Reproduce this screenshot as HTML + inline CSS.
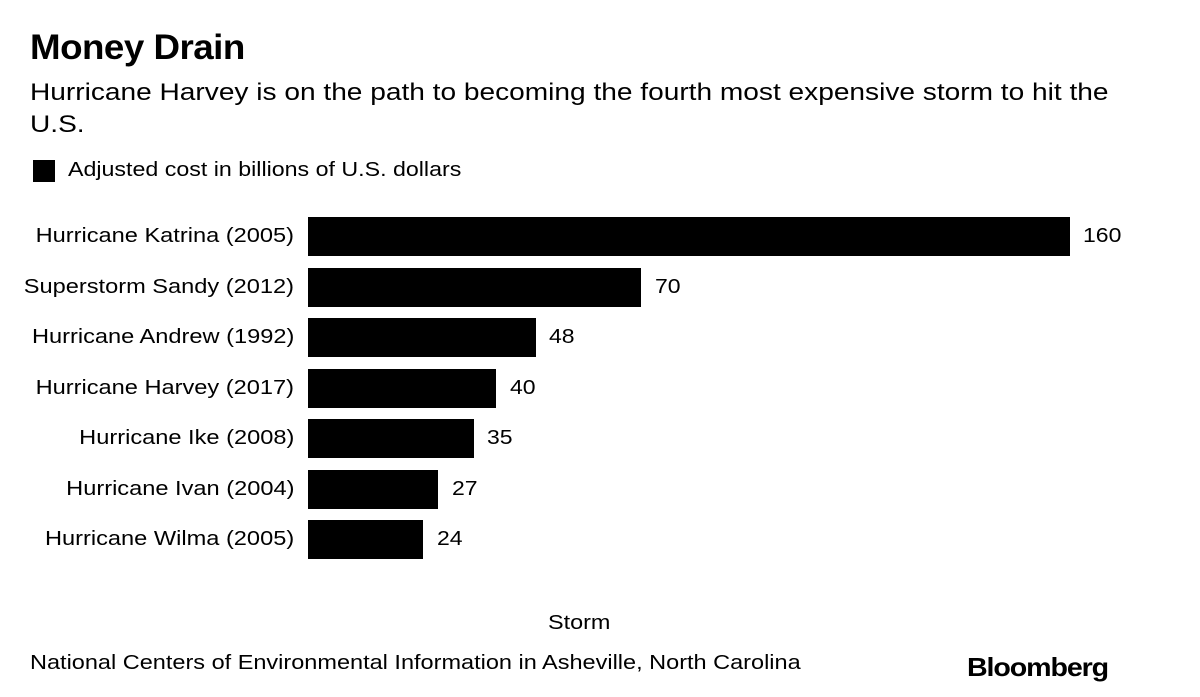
<!DOCTYPE html>
<html><head><meta charset="utf-8"><style>
body{margin:0;width:1200px;height:697px;background:#fff;font-family:"Liberation Sans",Arial,sans-serif;color:#000;position:relative;overflow:hidden}
.a{position:absolute;white-space:nowrap;transform-origin:left top}
.s{transform:scaleX(1.17)}
.bar{position:absolute;left:308px;height:39px;background:#000}
.lab{position:absolute;right:906px;font-size:20px;line-height:39px;white-space:nowrap;transform:scaleX(1.18);transform-origin:right top}
.val{position:absolute;font-size:20px;line-height:39px;transform:scaleX(1.15);transform-origin:left top}
</style></head><body>
<div class="a" style="left:30px;top:28px;font-size:35px;font-weight:bold;letter-spacing:-0.5px;transform:scaleX(1.05)">Money Drain</div>
<div class="a s" style="left:30px;top:77px;font-size:24px;line-height:32px">Hurricane Harvey is on the path to becoming the fourth most expensive storm to hit the<br>U.S.</div>
<div class="a" style="left:33px;top:160px;width:22px;height:22px;background:#000"></div>
<div class="a s" style="left:68px;top:157px;font-size:20px;line-height:26px;transform:scaleX(1.16)">Adjusted cost in billions of U.S. dollars</div>

<div class="lab" style="top:217px">Hurricane Katrina (2005)</div><div class="bar" style="top:217px;width:762px"></div><div class="val" style="top:217px;left:1083px">160</div>
<div class="lab" style="top:268px">Superstorm Sandy (2012)</div><div class="bar" style="top:268px;width:333px"></div><div class="val" style="top:268px;left:655px">70</div>
<div class="lab" style="top:318px">Hurricane Andrew (1992)</div><div class="bar" style="top:318px;width:228px"></div><div class="val" style="top:318px;left:549px">48</div>
<div class="lab" style="top:369px">Hurricane Harvey (2017)</div><div class="bar" style="top:369px;width:188px"></div><div class="val" style="top:369px;left:510px">40</div>
<div class="lab" style="top:419px">Hurricane Ike (2008)</div><div class="bar" style="top:419px;width:166px"></div><div class="val" style="top:419px;left:487px">35</div>
<div class="lab" style="top:470px">Hurricane Ivan (2004)</div><div class="bar" style="top:470px;width:130px"></div><div class="val" style="top:470px;left:452px">27</div>
<div class="lab" style="top:520px">Hurricane Wilma (2005)</div><div class="bar" style="top:520px;width:115px"></div><div class="val" style="top:520px;left:437px">24</div>

<div class="a s" style="left:548px;top:612px;font-size:20px">Storm</div>
<div class="a s" style="left:30px;top:652px;font-size:20px;transform:scaleX(1.175)">National Centers of Environmental Information in Asheville, North Carolina</div>
<div class="a" style="left:967px;top:652px;font-size:26px;font-weight:bold;letter-spacing:-1px;transform:scaleX(1.1)">Bloomberg</div>
</body></html>
